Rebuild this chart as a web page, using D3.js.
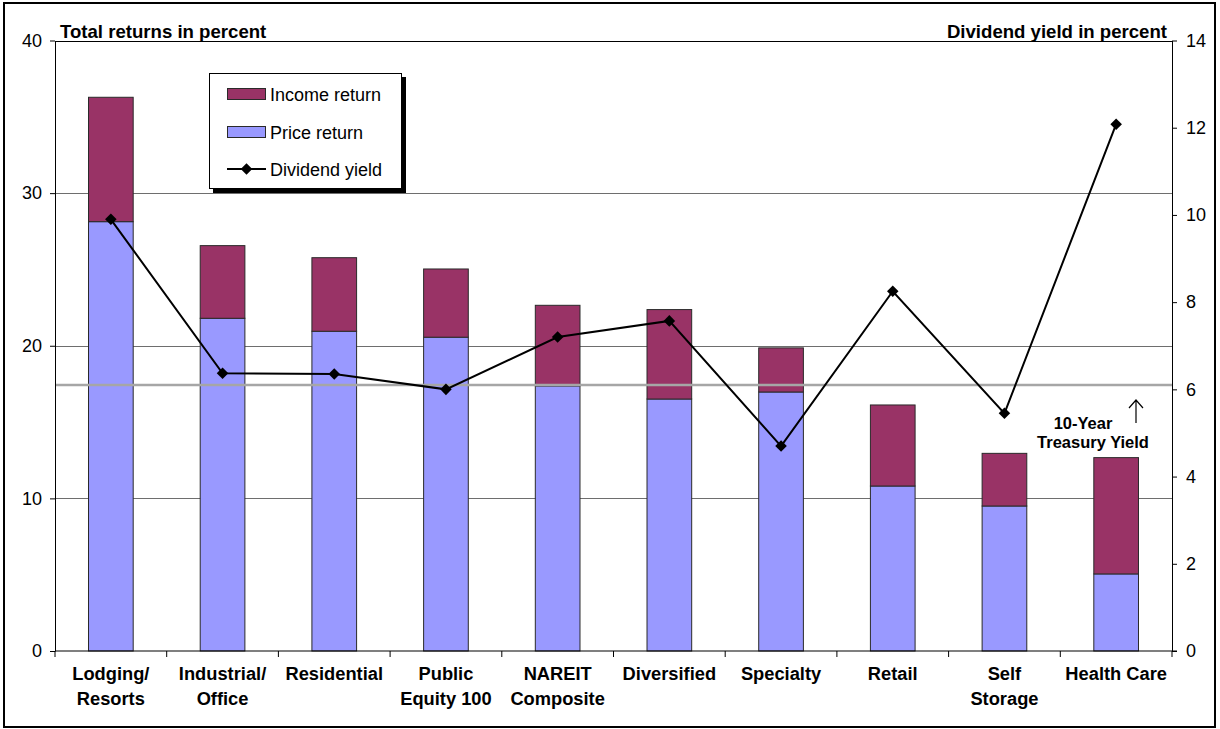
<!DOCTYPE html>
<html>
<head>
<meta charset="utf-8">
<script src="https://cdn.jsdelivr.net/npm/d3@7"></script>
<style>
  html, body { margin: 0; padding: 0; background: #fff; }
  svg { display: block; font-family: "Liberation Sans", Arial, sans-serif; }
</style>
</head>
<body>
<svg id="chart" width="1220" height="729"></svg>
<script>
// REIT sector returns: stacked price + income return bars, dividend yield line
const categories = [
  ["Lodging/", "Resorts"],
  ["Industrial/", "Office"],
  ["Residential"],
  ["Public", "Equity 100"],
  ["NAREIT", "Composite"],
  ["Diversified"],
  ["Specialty"],
  ["Retail"],
  ["Self", "Storage"],
  ["Health Care"]
];
const priceReturn  = [28.13, 21.80, 20.95, 20.56, 17.37, 16.51, 16.97, 10.81, 9.50, 5.05];
const incomeReturn = [8.15, 4.76, 4.82, 4.47, 5.28, 5.86, 2.89, 5.31, 3.45, 7.62];
const dividendYield = [9.9, 6.37, 6.35, 6.0, 7.2, 7.57, 4.7, 8.25, 5.45, 12.08];
const treasuryYield = 6.1;

const leftTicks = [0, 10, 20, 30, 40];
const rightTicks = [0, 2, 4, 6, 8, 10, 12, 14];

const legendItems = ["Income return", "Price return", "Dividend yield"];

const colors = { income: "#993366", price: "#9999ff", grid: "#6e6e6e", treasury: "#a6a6a6" };

const svg = d3.select("#chart");
const plot = { left: 55, right: 1172, top: 40.5, bottom: 651 };

// outer frame
svg.append("rect")
  .attr("x", 4).attr("y", 3).attr("width", 1211).attr("height", 724)
  .attr("fill", "#fff").attr("stroke", "#000").attr("stroke-width", 2);

const keys = categories.map(c => c.join(" "));
const x = d3.scaleBand().domain(keys).range([plot.left, plot.right])
  .paddingInner(0.6).paddingOuter(0.3);
const xStep = x.step();
const y = d3.scaleLinear().domain([0, 40]).range([plot.bottom, plot.top]);
const y2 = d3.scaleLinear().domain([0, 14]).range([plot.bottom, plot.top]);

// horizontal gridlines
svg.append("g").selectAll("line").data(leftTicks.filter(t => t > 0)).join("line")
  .attr("x1", plot.left).attr("x2", plot.right)
  .attr("y1", d => Math.round(y(d)) + 0.5).attr("y2", d => Math.round(y(d)) + 0.5)
  .attr("stroke", d => d === 40 ? "#000" : colors.grid).attr("stroke-width", 1);

// stacked bars
const stackData = keys.map((k, i) => ({ key: k, price: priceReturn[i], income: incomeReturn[i] }));
const series = d3.stack().keys(["price", "income"])(stackData);
svg.append("g").selectAll("g").data(series).join("g")
  .attr("fill", d => colors[d.key])
  .selectAll("rect").data(d => d).join("rect")
  .attr("x", d => x(d.data.key))
  .attr("width", x.bandwidth())
  .attr("y", d => y(d[1]))
  .attr("height", d => y(d[0]) - y(d[1]))
  .attr("stroke", "#2a2a2a").attr("stroke-width", 1);

// 10-year treasury yield reference line
svg.append("line")
  .attr("x1", plot.left).attr("x2", plot.right)
  .attr("y1", y2(treasuryYield)).attr("y2", y2(treasuryYield))
  .attr("stroke", colors.treasury).attr("stroke-width", 2.5);

// left axis
const leftAxis = svg.append("g").attr("transform", `translate(${plot.left},0)`)
  .call(d3.axisLeft(y).tickValues(leftTicks).tickSize(5).tickPadding(8).tickSizeOuter(0));
leftAxis.selectAll("text").attr("font-size", 18).attr("fill", "#000")
  .attr("font-family", "Liberation Sans, Arial, sans-serif");
leftAxis.selectAll("line, path").attr("stroke", "#000");

// right axis
const rightAxis = svg.append("g").attr("transform", `translate(${plot.right},0)`)
  .call(d3.axisRight(y2).tickValues(rightTicks).tickSize(5).tickPadding(9).tickSizeOuter(0));
rightAxis.selectAll("text").attr("font-size", 18).attr("fill", "#000")
  .attr("font-family", "Liberation Sans, Arial, sans-serif");
rightAxis.selectAll("line, path").attr("stroke", "#000");

// bottom axis: baseline with ticks between categories
svg.append("line")
  .attr("x1", plot.left).attr("x2", plot.right + 5)
  .attr("y1", plot.bottom).attr("y2", plot.bottom)
  .attr("stroke", "#000").attr("stroke-width", 1.2);
svg.append("g").selectAll("line").data(d3.range(categories.length + 1)).join("line")
  .attr("x1", i => plot.left + i * xStep).attr("x2", i => plot.left + i * xStep)
  .attr("y1", plot.bottom).attr("y2", plot.bottom + 6)
  .attr("stroke", "#000");

// category labels
const catLabels = svg.append("g").attr("font-size", 18.3).attr("font-weight", "bold")
  .attr("text-anchor", "middle").attr("fill", "#000");
categories.forEach((lines, i) => {
  const t = catLabels.append("text").attr("x", x(keys[i]) + x.bandwidth() / 2).attr("y", 680);
  lines.forEach((ln, j) => t.append("tspan")
    .attr("x", x(keys[i]) + x.bandwidth() / 2).attr("dy", j === 0 ? 0 : 25).text(ln));
});

// dividend yield line with diamond markers
const cx = i => x(keys[i]) + x.bandwidth() / 2;
svg.append("path")
  .datum(dividendYield)
  .attr("fill", "none").attr("stroke", "#000").attr("stroke-width", 2)
  .attr("d", d3.line().x((d, i) => cx(i)).y(d => y2(d)));
const diamond = d3.symbol().type(d3.symbolDiamond2).size(85);
svg.append("g").selectAll("path").data(dividendYield).join("path")
  .attr("transform", (d, i) => `translate(${cx(i)},${y2(d)})`)
  .attr("d", diamond).attr("fill", "#000");

// axis titles
svg.append("text").attr("x", 60).attr("y", 38)
  .attr("font-size", 18.6).attr("font-weight", "bold").text("Total returns in percent");
svg.append("text").attr("x", 1167).attr("y", 38).attr("text-anchor", "end")
  .attr("font-size", 18.6).attr("font-weight", "bold").text("Dividend yield in percent");

// treasury annotation
const annText = ["10-Year", "Treasury Yield"];
const annPos = [[1083, 429], [1093, 447.5]];
svg.append("g").attr("font-size", 16.5).attr("font-weight", "bold").attr("text-anchor", "middle")
  .selectAll("text").data(annText).join("text")
  .attr("x", (d, i) => annPos[i][0]).attr("y", (d, i) => annPos[i][1]).text(d => d);
const ax = 1136, ay = 400;
svg.append("path")
  .attr("d", `M${ax},${ay + 23}V${ay}M${ax - 7},${ay + 8}L${ax},${ay}L${ax + 7},${ay + 8}`)
  .attr("fill", "none").attr("stroke", "#000").attr("stroke-width", 1.2);

// legend
const lg = svg.append("g");
lg.append("rect").attr("x", 213).attr("y", 77).attr("width", 193).attr("height", 116).attr("fill", "#000");
lg.append("rect").attr("x", 209.5).attr("y", 73.5).attr("width", 192).attr("height", 115)
  .attr("fill", "#fff").attr("stroke", "#000").attr("stroke-width", 1);
const rowY = [94, 132, 169];
legendItems.forEach((name, i) => {
  if (i < 2) {
    lg.append("rect").attr("x", 227.5).attr("y", rowY[i] - 5.5).attr("width", 38).attr("height", 11)
      .attr("fill", i === 0 ? colors.income : colors.price).attr("stroke", "#2a2a2a");
  } else {
    lg.append("line").attr("x1", 227).attr("x2", 266).attr("y1", rowY[i]).attr("y2", rowY[i])
      .attr("stroke", "#000").attr("stroke-width", 2);
    lg.append("path").attr("transform", `translate(246.5,${rowY[i]})`).attr("d", diamond).attr("fill", "#000");
  }
  lg.append("text").attr("x", 270).attr("y", rowY[i] + 6.5).attr("font-size", 18).text(name);
});
</script>
</body>
</html>
